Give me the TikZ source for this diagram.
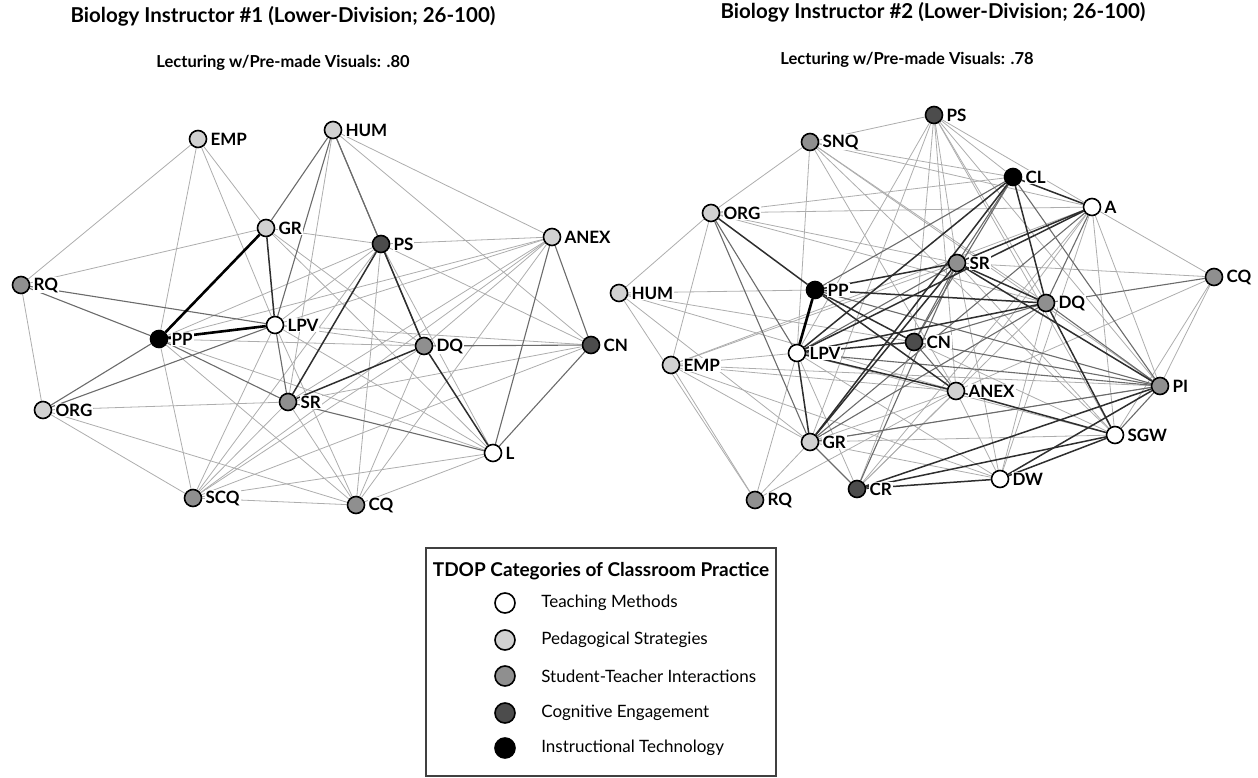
\documentclass[tikz,border=0pt]{standalone}
\usepackage{fontspec}
\setmainfont{Lato}
\usetikzlibrary{backgrounds}

\definecolor{tmcol}{gray}{1.00}
\definecolor{pscol}{gray}{0.82}
\definecolor{sticol}{gray}{0.56}
\definecolor{cecol}{gray}{0.30}
\definecolor{itcol}{gray}{0.00}

\begin{document}
\begin{tikzpicture}[x=1pt, y=-1pt,
    dot/.style={circle, draw=black, line width=1.6pt, minimum size=17pt, inner sep=0pt},
    lab/.style={fill=white, inner sep=1pt, label distance=2pt, font=\fontsize{17}{19}\selectfont\bfseries},
    wk/.style={black!32, line width=0.8pt},
    md/.style={black!58, line width=1.1pt},
    st/.style={black!82, line width=1.5pt},
    vst/.style={black, line width=2.6pt}]
	\useasboundingbox (0,0) rectangle (1258,778);
	% titles
	\node[font=\fontsize{20.5}{24}\selectfont\bfseries] (t1) at (283,16) {Biology Instructor \#1 (Lower-Division; 26-100)};
	\node[font=\fontsize{16.5}{19}\selectfont\bfseries] (s1) at (283,63) {Lecturing w/Pre-made Visuals: .80};
	\node[font=\fontsize{20.5}{24}\selectfont\bfseries] (t2) at (933,12) {Biology Instructor \#2 (Lower-Division; 26-100)};
	\node[font=\fontsize{16.5}{19}\selectfont\bfseries] (s2) at (907,60) {Lecturing w/Pre-made Visuals: .78};
	% instructor 1
	\foreach \n/\x/\y/\c in {EMP/198/139/pscol, HUM/333/130/pscol, GR/266/228/pscol, PS/381/244/cecol,
	    ANEX/552/237/pscol, RQ/21/285/sticol, PP/159/339/itcol, LPV/275/325/tmcol, DQ/424/346/sticol,
	    CN/591/345/cecol, ORG/43/410/pscol, SR/288/402/sticol, L/493/453/tmcol, SCQ/193/498/sticol, CQ/356/505/sticol}
	    \node[dot, fill=\c, label={[lab]right:\n}] (l-\n) at (\x,\y) {};
	% instructor 2
	\foreach \n/\x/\y/\c in {PS/934/115/cecol, SNQ/810/142/sticol, CL/1013/177/itcol, A/1092/207/tmcol,
	    ORG/711/213/pscol, SR/957/263/sticol, CQ/1214/277/sticol, HUM/619/293/pscol, PP/815/290/itcol,
	    DQ/1046/303/sticol, CN/914/342/cecol, LPV/797/353/tmcol, EMP/671/365/pscol, ANEX/956/391/pscol,
	    PI/1160/386/sticol, SGW/1115/435/tmcol, GR/810/442/pscol, DW/1000/479/tmcol, CR/857/489/cecol, RQ/755/500/sticol}
	    \node[dot, fill=\c, label={[lab]right:\n}] (r-\n) at (\x,\y) {};
	\begin{scope}[on background layer]
	\foreach \a/\b in {EMP/RQ, EMP/PP, EMP/GR, EMP/LPV, RQ/GR, RQ/ORG, HUM/ANEX, HUM/CN, HUM/SR, GR/PS, GR/DQ, GR/L,
	    PS/ANEX, PS/CN, PS/L, PS/LPV, PS/PP, PS/CQ, PS/SCQ, ANEX/PP, ANEX/LPV, ANEX/SR, ANEX/SCQ, ANEX/CQ, ANEX/DQ,
	    CN/SR, CN/SCQ, CN/LPV, PP/DQ, PP/CQ, PP/SCQ, PP/L, LPV/DQ, LPV/CQ, LPV/SCQ, LPV/L, ORG/SR, ORG/SCQ, ORG/CQ,
	    SR/SCQ, SR/CQ, DQ/SCQ, DQ/CQ, L/SCQ, L/CQ, SCQ/CQ}
	    \draw[wk] (l-\a) -- (l-\b);
	\foreach \a/\b in {HUM/GR, HUM/PS, HUM/LPV, HUM/DQ, ANEX/L, ANEX/CN, CN/L, DQ/CN, PP/SR, PP/ORG, LPV/ORG,
	    RQ/PP, RQ/LPV, SR/L, LPV/SR}
	    \draw[md] (l-\a) -- (l-\b);
	\foreach \a/\b in {GR/LPV, PS/SR, PS/DQ, SR/DQ, DQ/L}
	    \draw[st] (l-\a) -- (l-\b);
	\foreach \a/\b in {PP/LPV, PP/GR}
	    \draw[vst] (l-\a) -- (l-\b);
	% instructor 2 edges
	\foreach \a/\b in {PS/SNQ, PS/CL, PS/A, PS/SR, PS/DQ, PS/ANEX, PS/LPV, PS/GR, PS/PI, PS/CN, PS/SGW,
	    SNQ/ORG, SNQ/LPV, SNQ/CL, SNQ/A, SNQ/DQ, SNQ/ANEX, SNQ/SGW, SNQ/PI, ORG/HUM, ORG/EMP, ORG/CL, ORG/A,
	    ORG/SR, ORG/DQ, HUM/PP, HUM/ANEX, HUM/CN, HUM/RQ, HUM/GR, EMP/LPV, EMP/SR, EMP/PI, EMP/GR, EMP/RQ,
	    EMP/DW, EMP/ANEX, A/CQ, A/PI, A/SGW, A/DW, A/EMP, A/ANEX, A/CR, CQ/SR, CQ/PI, CQ/SGW, CQ/ANEX,
	    GR/ANEX, GR/PI, GR/SGW, GR/DW, GR/RQ, RQ/LPV, RQ/ANEX, DW/ANEX, DW/LPV, DW/SR, DW/DQ, CR/ANEX,
	    CR/CN, CR/LPV, CR/DQ, SGW/CN, SGW/LPV, SGW/SR}
	    \draw[wk] (r-\a) -- (r-\b);
	\foreach \a/\b in {ORG/LPV, ORG/GR, PP/CL, PP/PI, CL/CN, CL/SR, CL/PI, A/DQ, A/GR, SR/LPV, SR/CN, DQ/CN,
	    DQ/GR, DQ/CQ, DQ/PI, CN/ANEX, CN/PI, LPV/PI, PI/SGW, PI/GR, CR/SR, GR/CR}
	    \draw[md] (r-\a) -- (r-\b);
	\foreach \a/\b in {LPV/GR, ORG/PP, PP/SR, PP/DQ, PP/CN, PP/ANEX, CL/LPV, CL/GR, CL/DQ, CL/A, A/SR, A/LPV,
	    SR/DQ, SR/PI, SR/GR, DQ/LPV, DQ/SGW, CN/LPV, LPV/ANEX, PI/CR, PI/DW, SGW/CR, SGW/DW, SGW/ANEX, CR/DW}
	    \draw[st] (r-\a) -- (r-\b);
	\draw[vst] (r-PP) -- (r-LPV);
	\end{scope}
	% legend
	\draw[black!75, line width=1.2pt] (426,548) rectangle (776,776);
	\node[font=\fontsize{19}{22}\selectfont\bfseries] (key) at (601,571) {TDOP Categories of Classroom Practice};
	\foreach \c/\t/\y [count=\i] in {tmcol/Teaching Methods/603, pscol/Pedagogical Strategies/640,
	    sticol/Student-Teacher Interactions/676, cecol/Cognitive Engagement/713, itcol/Instructional Technology/748}
	    \node[dot, fill=\c, minimum size=20pt, label={[font=\fontsize{17}{19}\selectfont, label distance=22pt]right:\t}] (key-\i) at (505,\y) {};
\end{tikzpicture}
\end{document}
